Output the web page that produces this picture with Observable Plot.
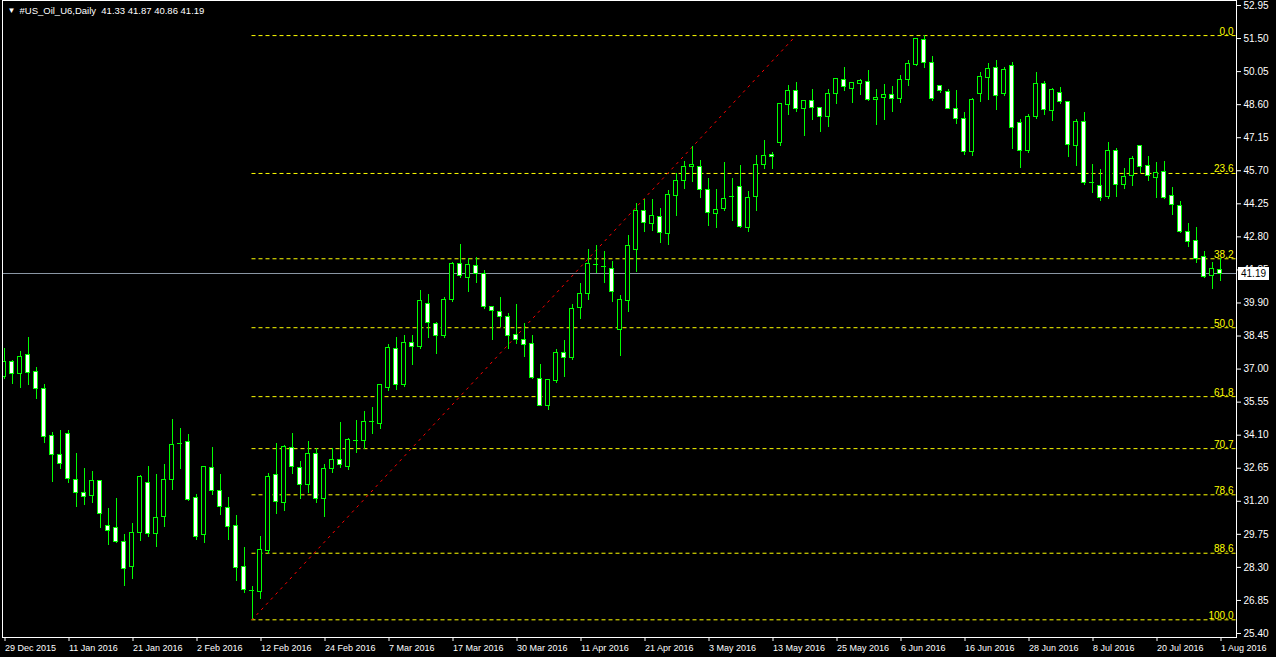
<!DOCTYPE html>
<html><head><meta charset="utf-8">
<script src="https://cdn.jsdelivr.net/npm/d3@7"></script>
<script src="https://cdn.jsdelivr.net/npm/@observablehq/plot@0.6"></script>
<style>
html,body{margin:0;padding:0;background:#000;overflow:hidden}
#chart{position:relative;width:1276px;height:657px}
svg text{white-space:pre}
</style></head><body><div id="chart"></div>
<script>
const symbolTitle = "#US_Oil_U6,Daily";
const titleOHLC = [41.33, 41.87, 40.86, 41.19];

const opens = [36.65,37.33,36.78,37.60,36.88,36.13,34.07,33.24,34.16,32.14,
31.57,31.44,32.07,30.12,30.04,29.42,28.31,29.80,32.01,29.76,
30.50,32.14,33.71,33.81,31.35,29.71,32.67,31.63,30.91,30.12,
28.33,27.26,27.21,29.00,32.36,31.12,33.55,32.67,31.92,33.28,
31.32,32.60,33.02,32.70,33.85,33.84,34.69,34.58,36.16,37.89,
36.28,38.15,37.96,39.86,38.98,38.43,40.02,41.62,40.99,41.53,
41.15,39.73,39.51,39.29,38.50,38.28,38.11,36.57,35.40,36.47,
37.71,37.48,39.69,40.30,41.56,41.46,41.40,38.72,39.98,42.23,
43.94,43.36,43.68,42.92,44.59,45.24,45.86,45.86,44.85,43.81,
44.02,44.54,44.98,43.18,44.54,45.96,46.40,46.91,48.58,49.18,
48.40,48.74,48.46,48.05,49.07,49.69,49.28,49.51,49.60,48.81,
48.88,49.02,48.84,49.69,50.35,51.44,50.43,49.43,49.16,48.42,
47.98,46.52,49.07,49.76,50.22,49.06,50.30,47.79,46.56,48.05,
49.51,48.31,49.12,48.72,46.78,47.85,45.15,45.02,44.54,46.57,
45.08,45.48,46.79,45.92,45.39,45.65,44.60,44.16,43.01,42.63,
41.91,41.09,41.33];
const highs = [37.89,37.38,37.77,38.39,37.05,36.31,34.22,34.31,34.31,33.30,
32.64,32.51,32.11,30.89,31.32,29.75,30.23,32.33,32.74,32.38,
32.81,34.79,34.39,34.13,31.48,32.71,33.56,32.37,31.37,30.58,
29.17,27.46,29.66,32.40,33.73,33.63,34.17,32.95,33.82,33.50,
32.80,33.50,34.66,33.94,34.74,35.14,35.31,36.32,38.08,38.39,
38.47,38.47,40.45,40.27,39.06,40.13,41.68,42.47,41.84,41.88,
41.32,39.73,40.13,39.44,39.83,38.98,38.47,37.20,36.53,37.86,
38.25,39.83,40.74,42.25,42.42,42.16,41.72,40.23,42.85,44.25,
44.44,44.44,44.03,44.83,45.59,46.11,46.76,46.15,45.35,44.86,
46.05,45.35,45.93,44.79,46.37,47.03,46.52,48.67,49.44,49.59,
48.78,49.25,48.46,49.25,49.73,50.23,49.56,49.69,50.10,49.25,
49.48,49.40,49.86,50.54,51.50,51.63,50.71,49.43,49.25,49.22,
48.26,48.86,50.01,50.42,50.54,50.23,50.45,47.95,48.15,50.01,
49.62,49.29,49.34,48.72,47.93,48.24,45.97,45.76,46.94,46.66,
45.78,46.34,46.79,46.34,46.06,46.09,44.95,44.35,43.37,43.20,
42.17,41.68,41.87];
const lows = [36.54,36.32,36.16,36.28,35.68,33.72,32.04,32.61,32.00,30.94,
31.03,31.12,30.02,29.26,29.34,27.46,27.79,29.45,29.61,29.19,
30.07,31.67,32.59,31.21,29.48,29.35,31.45,30.58,29.48,27.70,
27.17,26.00,26.88,28.87,30.62,30.77,32.37,31.29,31.54,31.10,
30.50,32.40,32.62,32.55,33.31,33.47,34.13,34.35,36.02,36.06,
36.21,37.16,37.86,38.36,37.64,38.36,39.94,40.99,40.37,40.74,
39.63,38.25,38.81,37.86,38.08,37.52,36.54,35.35,35.18,36.35,
36.65,37.38,39.19,40.01,41.18,40.75,39.94,37.57,39.50,41.25,
43.01,43.05,42.52,42.44,43.69,44.88,45.20,44.50,43.27,43.18,
43.91,43.49,43.18,43.01,43.93,45.74,45.74,46.76,48.12,48.27,
47.20,47.90,47.38,47.61,48.61,49.18,48.67,49.00,48.72,47.69,
47.91,48.27,48.67,49.41,50.29,50.20,48.75,49.10,48.40,47.74,
46.37,46.33,48.71,48.78,48.34,48.97,46.63,45.81,46.47,47.95,
48.12,47.88,48.61,46.30,45.89,45.05,44.72,44.37,44.45,44.54,
44.89,45.02,45.57,45.24,44.50,44.45,43.72,42.93,42.32,41.65,
40.96,40.51,40.86];
const closes = [37.30,36.79,37.54,36.82,36.12,34.01,33.24,32.84,32.19,31.57,
31.40,32.10,30.65,29.91,29.41,28.22,29.79,32.25,29.76,30.48,
32.14,33.68,33.71,31.26,29.63,32.71,31.66,30.94,30.07,28.28,
27.32,27.26,29.07,32.27,31.16,33.59,32.71,31.91,33.28,31.32,
32.60,33.02,32.80,33.87,33.85,34.69,34.69,36.28,37.93,36.29,
38.15,37.96,39.99,39.01,38.44,40.04,41.62,41.08,41.57,41.18,
39.72,39.56,39.29,38.44,38.28,38.06,36.60,35.40,36.53,37.71,
37.49,39.64,40.30,41.62,41.56,41.46,40.39,40.04,42.41,43.94,
43.40,43.72,42.98,44.64,45.26,45.87,45.97,44.86,43.85,43.99,
44.47,44.54,43.23,44.51,45.96,46.35,46.30,48.61,49.22,48.40,
48.78,48.46,48.05,49.07,49.73,49.37,49.56,49.62,48.81,48.90,
49.03,48.84,49.69,50.39,51.49,50.42,48.86,49.21,48.40,47.96,
46.52,48.81,49.82,50.17,48.97,50.13,47.58,46.56,48.05,49.51,
48.37,49.25,48.72,46.82,47.85,45.16,45.15,44.51,46.57,45.08,
45.43,46.21,45.86,45.45,45.61,44.50,44.19,43.01,42.57,41.82,
41.03,41.38,41.19];

const xTickBars = [0,8,16,24,32,40,48,56,64,72,80,88,96,104,112,120,128,136,144,152];
const xTickLabels = ["29 Dec 2015","11 Jan 2016","21 Jan 2016","2 Feb 2016","12 Feb 2016","24 Feb 2016","7 Mar 2016","17 Mar 2016","30 Mar 2016","11 Apr 2016","21 Apr 2016","3 May 2016","13 May 2016","25 May 2016","6 Jun 2016","16 Jun 2016","28 Jun 2016","8 Jul 2016","20 Jul 2016","1 Aug 2016"];
const yTicks = [52.95,51.50,50.05,48.60,47.15,45.70,44.25,42.80,41.35,39.90,38.45,37.00,35.55,34.10,32.65,31.20,29.75,28.30,26.85,25.40];

const fibLevels = [0.0, 23.6, 38.2, 50.0, 61.8, 70.7, 78.6, 88.6, 100.0];
const fibHigh = 51.63, fibLow = 26.00;
const fibStartBar = 31, fibEndBar = 99;
const bidPrice = 41.19;

const LIME = "#00ff00", YELLOW = "#ffff00", RED = "#ff0000";
const xDomain = [-0.4375, 154.0625];

const candles = opens.map((o, i) => ({i, o, h: highs[i], l: lows[i], c: closes[i],
  lo: Math.min(o, closes[i]), hi: Math.max(o, closes[i])}));
const fib = fibLevels.map(level => ({level, price: fibHigh - (fibHigh - fibLow) * level / 100}));
const diag = [{x: fibStartBar, y: fibLow}, {x: fibEndBar, y: fibHigh}];
const labelOf = new Map(xTickBars.map((b, k) => [b, xTickLabels[k]]));
const titleText = symbolTitle + "  " + titleOHLC.map(v => v.toFixed(2)).join(" ");

const chart = Plot.plot({
  width: 1276, height: 657,
  marginLeft: 2, marginRight: 40, marginTop: 0, marginBottom: 20,
  style: {background: "#000", color: "#fff", fontFamily: "'Liberation Sans', Arial, sans-serif", fontSize: "10px", overflow: "visible"},
  x: {type: "linear", domain: xDomain, range: [0, 1236], axis: null},
  y: {type: "linear", domain: [25.40, 52.95], range: [633, 5], axis: null},
  marks: [
    Plot.ruleY([bidPrice], {stroke: "#8a96a4", shapeRendering: "crispEdges"}),
    Plot.ruleY(fib, {y: "price", x1: fibStartBar, x2: xDomain[1], stroke: YELLOW, strokeDasharray: "4,3"}),
    Plot.text(fib, {y: "price", text: d => d.level.toFixed(1), frameAnchor: "right", dx: -3, textAnchor: "end", lineAnchor: "bottom", dy: -1, fill: YELLOW, fontSize: 10}),
    Plot.line(diag, {x: "x", y: "y", stroke: RED, strokeDasharray: "2,5", strokeWidth: 1}),
    Plot.ruleX(candles, {x: "i", y1: "l", y2: "h", stroke: LIME, shapeRendering: "crispEdges", clip: true}),
    Plot.rect(candles, {x1: d => d.i - 0.3125, x2: d => d.i + 0.3125, y1: "lo", y2: "hi", fill: LIME,
      insetTop: -0.5, insetBottom: -0.5, shapeRendering: "crispEdges", clip: true}),
    Plot.rect(candles, {x1: d => d.i - 0.3125, x2: d => d.i + 0.3125, y1: "lo", y2: "hi",
      fill: d => d.c < d.o ? "#ffffff" : "#000000",
      insetLeft: 1, insetRight: 1, insetTop: 0.5, insetBottom: 0.5, shapeRendering: "crispEdges", clip: true}),
    Plot.frame({stroke: "#ffffff", shapeRendering: "crispEdges"}),
    Plot.axisY(yTicks, {anchor: "right", tickSize: 4, tickPadding: 3, tickFormat: d => d.toFixed(2), stroke: "#ffffff", fill: "#ffffff", fontSize: 10}),
    Plot.axisX(xTickBars, {anchor: "bottom", tickSize: 4, tickPadding: 3, tickFormat: d => labelOf.get(d), textAnchor: "start", dx: 1, stroke: "#ffffff", fill: "#ffffff", fontSize: 9}),
    Plot.text(["\u25BC"], {text: d => d, frameAnchor: "top-left", dx: 5, dy: 10, lineAnchor: "middle", textAnchor: "start", fill: "#ffffff", fontSize: 8}),
    Plot.text([titleText], {text: d => d, frameAnchor: "top-left", dx: 17, dy: 10, lineAnchor: "middle", textAnchor: "start", fill: "#ffffff", fontSize: 9.5})
  ]
});
document.getElementById("chart").appendChild(chart);

// current price tag on the right axis
const yScale = chart.scale("y");
const yb = yScale.apply(bidPrice);
const svg = d3.select(chart);
const g = svg.append("g").attr("text-anchor", "start");
g.append("rect").attr("x", 1238).attr("y", Math.round(yb) - 6).attr("width", 31).attr("height", 13).attr("fill", "#ffffff");
g.append("text").attr("x", 1241).attr("y", yb).attr("dy", "0.35em").attr("fill", "#000000")
  .attr("text-anchor", "start").attr("font-size", 10).text(bidPrice.toFixed(2));
</script></body></html>
